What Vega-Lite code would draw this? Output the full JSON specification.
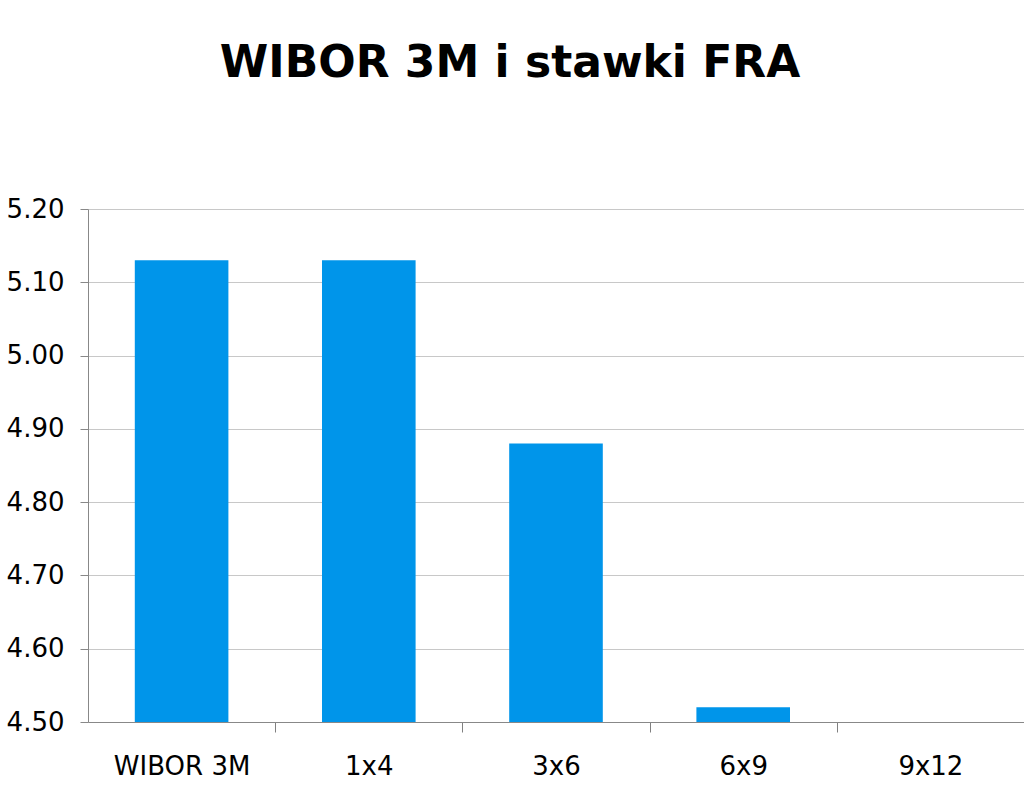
{
  "$schema": "https://vega.github.io/schema/vega-lite/v6.json",
  "autosize": "none",
  "width": 936,
  "height": 513,
  "padding": {"left": 88, "top": 209, "right": 0, "bottom": 69},
  "background": "white",
  "title": {
    "text": "WIBOR 3M i stawki FRA",
    "font": "DejaVu Sans",
    "fontSize": 44,
    "fontWeight": "bold",
    "color": "black",
    "anchor": "middle",
    "dx": -46,
    "offset": 110
  },
  "data": {
    "values": [
      {"stawka": "WIBOR 3M", "wartosc": 5.13},
      {"stawka": "1x4", "wartosc": 5.13},
      {"stawka": "3x6", "wartosc": 4.88},
      {"stawka": "6x9", "wartosc": 4.52},
      {"stawka": "9x12", "wartosc": 4.50}
    ]
  },
  "mark": {"type": "bar", "color": "#0095EA", "clip": true},
  "encoding": {
    "x": {
      "field": "stawka",
      "type": "nominal",
      "sort": null,
      "title": null,
      "scale": {"paddingInner": 0.5, "paddingOuter": 0.25},
      "axis": {
        "labelAngle": 0,
        "labelFont": "DejaVu Sans",
        "labelFontSize": 26,
        "labelColor": "black",
        "labelPadding": 21,
        "tickOffset": 93.6,
        "labelOffset": -93.6,
        "ticks": true,
        "tickSize": 10,
        "tickWidth": 1,
        "tickColor": "#808080",
        "domainColor": "#888888",
        "grid": false
      }
    },
    "y": {
      "field": "wartosc",
      "type": "quantitative",
      "title": null,
      "scale": {"domain": [4.5, 5.2], "zero": false, "nice": false},
      "axis": {
        "values": [4.5, 4.6, 4.7, 4.8, 4.9, 5.0, 5.1, 5.2],
        "format": ".2f",
        "labelFont": "DejaVu Sans",
        "labelFontSize": 26,
        "labelColor": "black",
        "labelPadding": 16,
        "tickSize": 8,
        "tickColor": "#888888",
        "domainColor": "#888888",
        "gridColor": "#c8c8c8"
      }
    }
  },
  "config": {"view": {"stroke": null}}
}
